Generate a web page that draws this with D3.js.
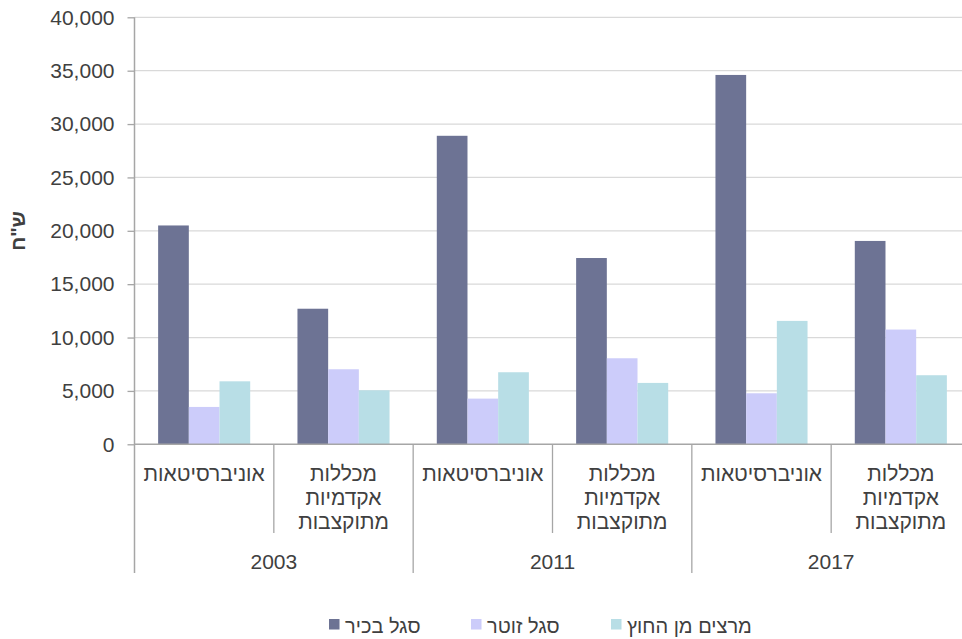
<!DOCTYPE html>
<html lang="he">
<head>
<meta charset="utf-8">
<script src="https://cdn.jsdelivr.net/npm/d3@7"></script>
<style>
  html, body { margin: 0; padding: 0; background: #fff; }
  svg { display: block; font-family: "Liberation Sans", Arial, sans-serif; }
</style>
</head>
<body>
<svg id="chart" width="962" height="639"></svg>
<script>
// ---- data ----
const years = ["2003", "2011", "2017"];
const institutions = [["אוניברסיטאות"], ["מכללות", "אקדמיות", "מתוקצבות"]];
const seriesNames = ["סגל בכיר", "סגל זוטר", "מרצים מן החוץ"];
const seniorStaff   = [20500, 12700, 28900, 17450, 34600, 19050];
const juniorStaff   = [3500, 7030, 4280, 8060, 4780, 10750];
const externalStaff = [5900, 5060, 6750, 5750, 11560, 6470];
const yTicks = [0, 5000, 10000, 15000, 20000, 25000, 30000, 35000, 40000];
const yTitle = "ש\"ח";

const colors = ["#6D7394", "#CCCCFA", "#B8DEE6"];

(function () {
// build table
const categories = [];
years.forEach((yr, yi) => institutions.forEach((inst, ii) => categories.push({ key: yr + "-" + ii, year: yr, inst, idx: yi * 2 + ii })));
const seriesValues = [seniorStaff, juniorStaff, externalStaff];

const svg = d3.select("#chart");
const mLeft = 134.5, mRight = 970.5, mTop = 17.3, mBottom = 444.3;

const x0 = d3.scaleBand().domain(categories.map(c => c.key)).range([mLeft, mRight]).padding(0);
const x1 = d3.scaleBand().domain(seriesNames).range([0, x0.bandwidth()]).paddingInner(0).paddingOuter(0.77);
const y = d3.scaleLinear().domain([0, 40000]).range([mBottom, mTop]);

const textColor = "#404040";
const axisColor = "#A6A6A6";

// gridlines
svg.append("g").selectAll("line").data(yTicks.filter(t => t > 0)).join("line")
  .attr("x1", mLeft).attr("x2", mRight)
  .attr("y1", d => y(d)).attr("y2", d => y(d))
  .attr("stroke", "#D9D9D9").attr("stroke-width", 1.3);

// y axis
const yAxis = d3.axisLeft(y).tickValues(yTicks).tickFormat(d3.format(",")).tickSize(7).tickPadding(13);
const yg = svg.append("g").attr("transform", `translate(${mLeft},0)`).call(yAxis);
yg.select(".domain").remove();
yg.selectAll(".tick line").attr("stroke", axisColor).attr("stroke-width", 1.3);
yg.selectAll(".tick text").attr("fill", textColor).style("font-size", "21px").style("font-family", "'Liberation Sans', Arial, sans-serif");

// bars
const groups = svg.append("g").selectAll("g").data(categories).join("g")
  .attr("transform", d => `translate(${x0(d.key)},0)`);
groups.selectAll("rect").data(c => seriesNames.map((s, si) => ({ s, si, v: seriesValues[si][c.idx] }))).join("rect")
  .attr("x", d => x1(d.s))
  .attr("width", x1.bandwidth())
  .attr("y", d => y(d.v))
  .attr("height", d => y(0) - y(d.v))
  .attr("fill", d => colors[d.si]);

// axis lines
svg.append("line").attr("x1", mLeft).attr("x2", mRight).attr("y1", mBottom).attr("y2", mBottom)
  .attr("stroke", axisColor).attr("stroke-width", 1.5);
svg.append("line").attr("x1", mLeft).attr("x2", mLeft).attr("y1", mTop).attr("y2", 573)
  .attr("stroke", axisColor).attr("stroke-width", 1.5);

// category dividers
categories.forEach((c, i) => {
  if (i === 0) return;
  const xx = x0(c.key);
  const yearBoundary = i % 2 === 0;
  svg.append("line").attr("x1", xx).attr("x2", xx).attr("y1", mBottom).attr("y2", yearBoundary ? 573 : 533)
    .attr("stroke", axisColor).attr("stroke-width", 1.3);
});

// category labels
const catLabels = svg.append("g").selectAll("text").data(categories).join("text")
  .attr("x", d => x0(d.key) + x0.bandwidth() / 2)
  .attr("y", 480.5)
  .attr("text-anchor", "middle")
  .attr("fill", textColor)
  .style("font-size", "21px");
catLabels.selectAll("tspan").data(d => d.inst.map(t => ({ t, x: x0(d.key) + x0.bandwidth() / 2 }))).join("tspan")
  .attr("x", d => d.x)
  .attr("dy", (d, i) => i === 0 ? 0 : 24.3)
  .text(d => d.t);

// year labels
svg.append("g").selectAll("text").data(years).join("text")
  .attr("x", (d, i) => x0(categories[i * 2].key) + x0.bandwidth())
  .attr("y", 569)
  .attr("text-anchor", "middle")
  .attr("fill", textColor)
  .style("font-size", "21px")
  .text(d => d);

// y title
svg.append("text")
  .attr("transform", "translate(25,231) rotate(-90)")
  .attr("text-anchor", "middle")
  .attr("fill", textColor)
  .style("font-size", "20px")
  .style("font-weight", "bold")
  .text(yTitle);

// legend
const legendX = [329, 471, 611];
const lg = svg.append("g").selectAll("g").data(seriesNames).join("g")
  .attr("transform", (d, i) => `translate(${legendX[i]},619)`);
lg.append("rect").attr("width", 10.5).attr("height", 10.5).attr("fill", (d, i) => colors[i]);
lg.append("text").attr("x", 16).attr("y", 14).attr("text-anchor", "start")
  .attr("fill", textColor).style("font-size", "20px")
  .text(d => d);
})();
</script>
</body>
</html>
